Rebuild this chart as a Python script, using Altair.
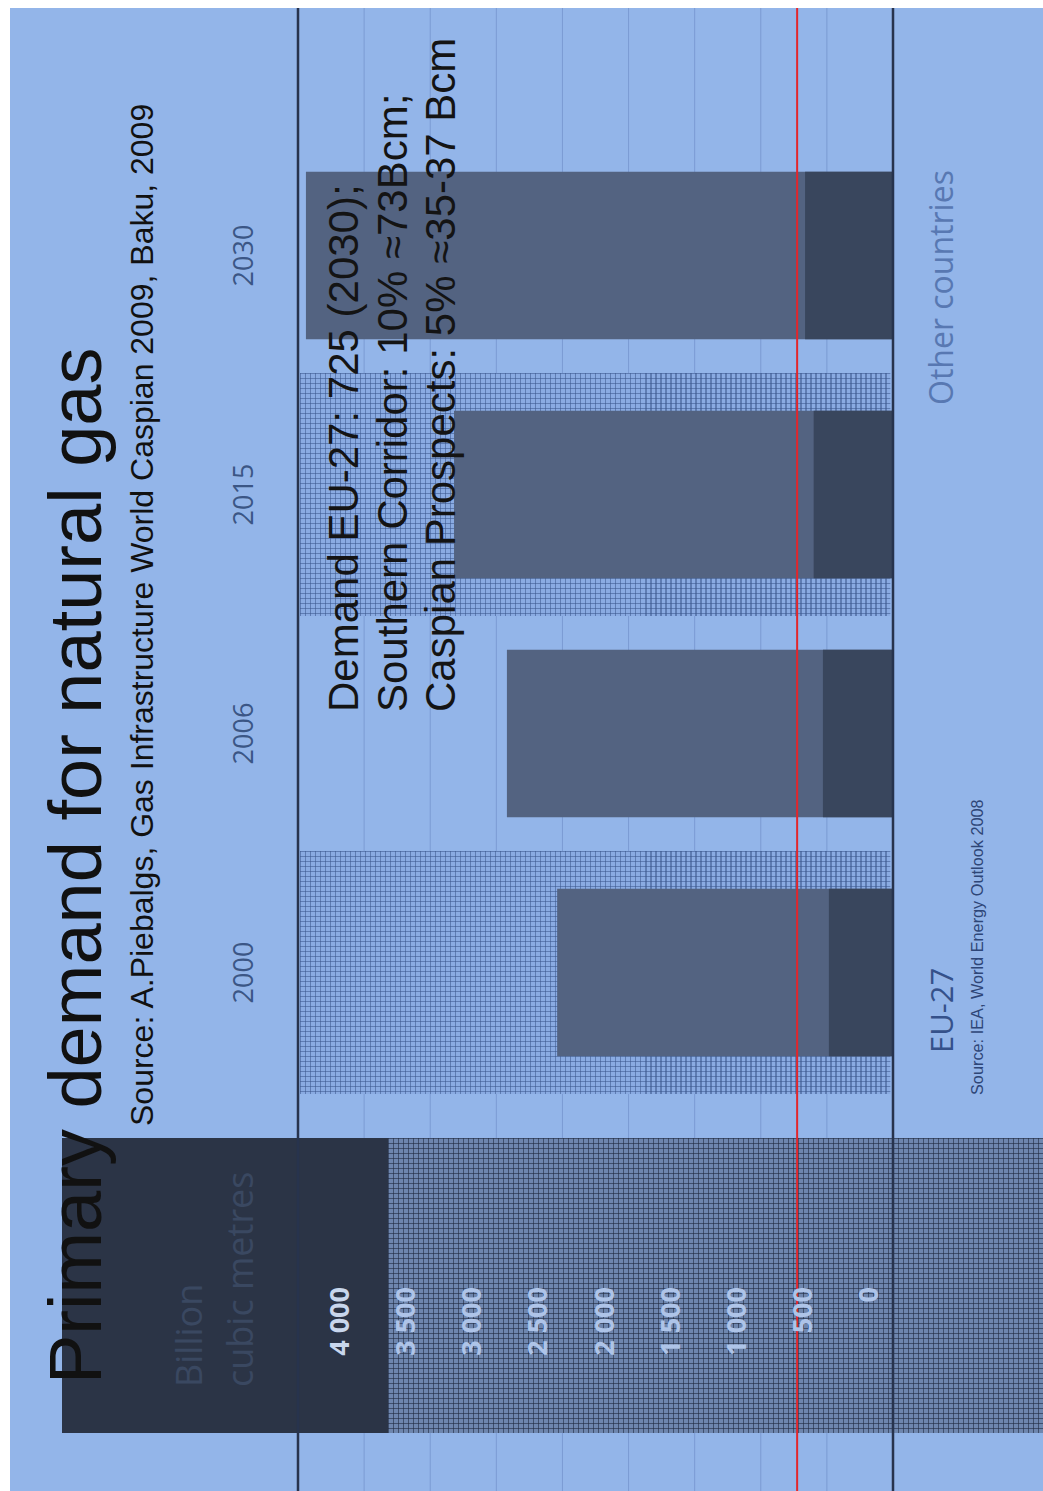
import altair as alt
import pandas as pd

# ---------------- data ----------------
years = ["2000", "2006", "2015", "2030"]
eu27 = [485, 530, 600, 665]
total_world = [2540, 2920, 3320, 4440]
hatched_years = ["2000", "2015"]
tick_values = [0, 500, 1000, 1500, 2000, 2500, 3000, 3500, 4000]
tick_labels = ["0", "500", "1 000", "1 500", "2 000", "2 500", "3 000", "3 500", "4 000"]
frame_values = [0, 4500]
eu_demand_2030 = [725]
title_text = "Primary demand for natural gas"
subtitle_text = "Source: A.Piebalgs, Gas Infrastructure World Caspian 2009, Baku, 2009"
annotation_lines = [
    "Demand EU-27: 725 (2030);",
    "Southern Corridor: 10% \u224873Bcm;",
    "Caspian Prospects: 5% \u224835-37 Bcm",
]
unit_lines = ["Billion", "cubic metres"]
series_labels = ["EU-27", "Other countries"]
source_note = "Source: IEA, World Energy Outlook 2008"

# ---------------- layout ----------------
W, H = 1043, 1491
PL = 298          # plot left in page pixels
PR = 893          # plot right (value 0)
PT = 136          # plot top in page pixels
PB = 1092         # plot bottom in page pixels
PW = PR - PL
PH = PB - PT


def px(xpage):
    return xpage - PL


def py(ypage):
    return ypage - PT


def mesh(length_px, pitch, line_w, color, horizontal_lines):
    """Striped gradient used as a fine hatch texture (style only)."""
    clear = "rgba(0,0,0,0)"
    stops = []
    pos = 0.0
    while pos < length_px:
        a = pos / length_px
        b = min((pos + line_w) / length_px, 1.0)
        stops += [alt.GradientStop(offset=a, color=clear),
                  alt.GradientStop(offset=a, color=color),
                  alt.GradientStop(offset=b, color=color),
                  alt.GradientStop(offset=b, color=clear)]
        pos += pitch
    if horizontal_lines:
        return alt.LinearGradient(gradient="linear", stops=stops, x1=0, x2=0, y1=0, y2=1)
    return alt.LinearGradient(gradient="linear", stops=stops, x1=0, x2=1, y1=0, y2=0)


bars_df = pd.DataFrame({"year": years, "eu": eu27, "total": total_world})
hatch_df = pd.DataFrame({"year": hatched_years})
ticks_df = pd.DataFrame({"v": tick_values, "label": tick_labels})
grid_df = pd.DataFrame({"v": [v for v in tick_values if v > 0]})
frame_df = pd.DataFrame({"v": frame_values})
red_df = pd.DataFrame({"v": eu_demand_2030})
one = pd.DataFrame({"k": [0]})

xs = alt.Scale(domain=[0, 4500], reverse=True, nice=False)
ys = alt.Scale(domain=["2030", "2015", "2006", "2000"],
               paddingInner=0.3, paddingOuter=0.15)

BG = "#93b5e9"

bg = alt.Chart(one).mark_rect(color=BG).encode(
    x=alt.value(px(10)), x2=alt.value(px(W)), y=alt.value(py(8)), y2=alt.value(py(H)))

grid = alt.Chart(grid_df).mark_rule(color="#7b9bd3", strokeWidth=1).encode(
    x=alt.X("v:Q", scale=xs, axis=None), y=alt.value(py(8)), y2=alt.value(py(H)))

HATCH_W, HATCH_H = 590, 243


def hatch_layer(fill):
    return alt.Chart(hatch_df).transform_calculate(
        lo="4485", hi="20"
    ).mark_bar(height=HATCH_H, color=fill).encode(
        y=alt.Y("year:N", scale=ys, axis=None),
        x=alt.X("lo:Q", scale=xs, axis=None), x2="hi:Q")


hatch_base = hatch_layer("#8aabe2")
hatch_v = hatch_layer(mesh(HATCH_W, 5, 1.3, "rgba(58,86,140,0.55)", False))
hatch_h = hatch_layer(mesh(HATCH_H, 5, 1.3, "rgba(58,86,140,0.55)", True))

BAND_W, BAND_H = W - 388, 1433 - 1138


def band_layer(fill):
    return alt.Chart(one).mark_rect(color=fill).encode(
        x=alt.value(px(388)), x2=alt.value(px(W)), y=alt.value(py(1138)), y2=alt.value(py(1433)))


band_base = band_layer("#6e86ae")
band_v = band_layer(mesh(BAND_W, 5, 1.4, "rgba(32,42,64,0.6)", False))
band_h = band_layer(mesh(BAND_H, 5, 1.4, "rgba(32,42,64,0.6)", True))

box = alt.Chart(one).mark_rect(color="#2b3446").encode(
    x=alt.value(px(62)), x2=alt.value(px(388)), y=alt.value(py(1138)), y2=alt.value(py(1433)))

bar_total = alt.Chart(bars_df).mark_bar(color="#536381").encode(
    y=alt.Y("year:N", scale=ys, axis=None),
    x=alt.X("total:Q", scale=xs, axis=None))
bar_eu = alt.Chart(bars_df).mark_bar(color="#39465d").encode(
    y=alt.Y("year:N", scale=ys, axis=None),
    x=alt.X("eu:Q", scale=xs, axis=None))

frame = alt.Chart(frame_df).mark_rule(color="#27334d", strokeWidth=2.5).encode(
    x=alt.X("v:Q", scale=xs, axis=None), y=alt.value(py(8)), y2=alt.value(py(H)))
red = alt.Chart(red_df).mark_rule(color="#e3262b", strokeWidth=2).encode(
    x=alt.X("v:Q", scale=xs, axis=None), y=alt.value(py(8)), y2=alt.value(py(H)))

tick_text = alt.Chart(ticks_df).mark_text(
    angle=270, align="right", baseline="middle", dy=-23,
    font="Open Sans", fontWeight="bold", fontSize=27).encode(
    x=alt.X("v:Q", scale=xs, axis=None), y=alt.value(py(1287)), text="label:N",
    color=alt.condition(alt.datum.v == 4000, alt.value("#c8d6ec"), alt.value("#aec4e8")))

year_text = alt.Chart(bars_df).mark_text(
    angle=270, align="center", baseline="alphabetic",
    font="Open Sans", fontSize=27, color="#3b5685").encode(
    y=alt.Y("year:N", scale=ys, axis=None), x=alt.value(px(253)), text="year:N")


def label(txt, xb, ystart, size, color, font="Liberation Sans", weight="normal"):
    d = pd.DataFrame({"t": [txt]})
    return alt.Chart(d).mark_text(
        angle=270, align="left", baseline="alphabetic", font=font,
        fontSize=size, color=color, fontWeight=weight).encode(
        x=alt.value(px(xb)), y=alt.value(py(ystart)), text="t:N")


texts = [
    label(unit_lines[0], 202, 1387, 36, "#3a4861", font="Open Sans"),
    label(unit_lines[1], 253, 1387, 36, "#3a4861", font="Open Sans"),
    label(title_text, 101, 1384, 74, "#111111"),
    label(subtitle_text, 153, 1126, 32, "#111111"),
    label(series_labels[0], 953, 1053, 31, "#35518a", font="Open Sans"),
    label(series_labels[1], 953, 405, 32, "#5878b2", font="Open Sans"),
    label(source_note, 983, 1095, 16.3, "#2e4677"),
]
for i, line in enumerate(annotation_lines):
    texts.append(label(line, 358 + 48.5 * i, 712, 42, "#141414"))

chart = alt.layer(
    bg, grid, hatch_base, hatch_v, hatch_h, band_base, band_v, band_h, box,
    bar_total, bar_eu, frame, red, tick_text, year_text, *texts
).properties(
    width=PW, height=PH,
    padding={"left": PL, "right": W - PR, "top": PT, "bottom": H - PB},
    autosize=alt.AutoSizeParams(type="none"),
    background="white",
).configure_view(strokeWidth=0)

chart.save("out.html", embed_options={"renderer": "svg", "actions": False})
